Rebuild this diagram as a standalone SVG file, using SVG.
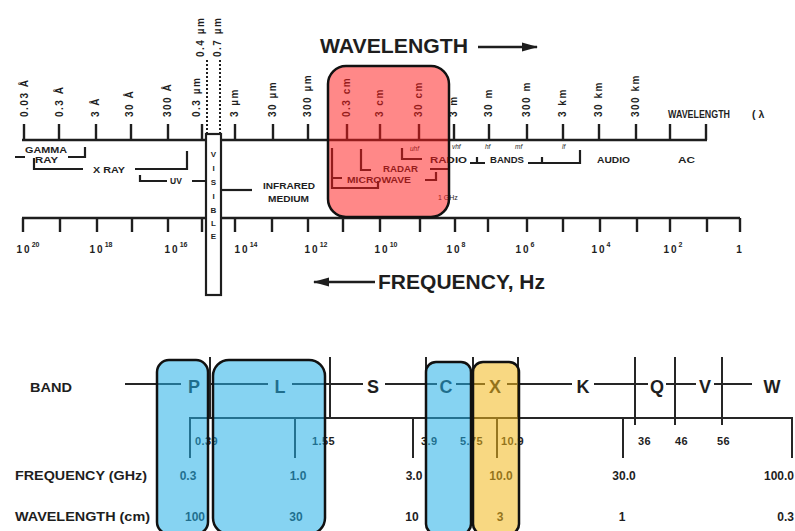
<svg xmlns="http://www.w3.org/2000/svg" width="795" height="531" viewBox="0 0 795 531">
<defs>
<style>
 .ax{stroke:#1e1e1e;stroke-width:2.6;fill:none}
 .tk{stroke:#1e1e1e;stroke-width:2.4}
 .br{stroke:#1e1e1e;stroke-width:2.2;fill:none}
 .dot{stroke:#1e1e1e;stroke-width:2;stroke-dasharray:2 2}
 text{font-family:"Liberation Sans",Arial,sans-serif;fill:#1e1e1e}
 .wl{font-size:10px;font-weight:bold;letter-spacing:1.5px}
 .rg{font-size:8.5px;font-weight:bold}
 .sm{font-size:6.5px;font-style:italic}
 .fq{font-size:10px;letter-spacing:2px;text-anchor:middle;font-weight:bold}
 .sup{font-size:7px;letter-spacing:0}
 .title{font-size:20px;font-weight:bold}
 .ln{stroke:#262626;stroke-width:2;fill:none}
 .bl{font-size:12px;font-weight:bold}
 .band{font-size:18px;font-weight:bold;text-anchor:middle}
 .val{font-size:12px;font-weight:bold;text-anchor:middle}
 .bd{font-size:11px;font-weight:bold;letter-spacing:0.4px}
 .red{fill:#ff1a1a;fill-opacity:.52;stroke:#111;stroke-width:2.5}
 .blue{fill:#22aee8;fill-opacity:.55;stroke:#111;stroke-width:2.5}
 .yel{fill:#f2b81c;fill-opacity:.55;stroke:#111;stroke-width:2.5}
</style>
<marker id="ah" markerUnits="userSpaceOnUse" markerWidth="16" markerHeight="10" viewBox="0 0 16 10" refX="15" refY="5" orient="auto">
 <path d="M0,0.5 L16,5 L0,9.5 z" fill="#1e1e1e"/>
</marker>
</defs>
<rect width="795" height="531" fill="#fff"/>

<!-- titles -->
<g id="titles">
 <text class="title" x="320" y="53" textLength="148" lengthAdjust="spacingAndGlyphs">WAVELENGTH</text>
 <line class="ax" x1="478" y1="47" x2="537" y2="47" marker-end="url(#ah)"/>
 <text class="title" x="378" y="289" textLength="167" lengthAdjust="spacingAndGlyphs">FREQUENCY, Hz</text>
 <line class="ax" x1="375" y1="282" x2="314" y2="282" marker-end="url(#ah)"/>
 <text class="rg" x="668" y="118" style="font-size:10.5px"><tspan textLength="62" lengthAdjust="spacingAndGlyphs">WAVELENGTH</tspan><tspan x="752">( λ</tspan></text>
</g>

<!-- wavelength scale -->
<g id="wavelength-axis">
 <path class="ax" d="M22,140 H707"/>
 <g class="tk">
  <line x1="24" y1="124" x2="24" y2="140"/><line x1="59" y1="124" x2="59" y2="140"/>
  <line x1="96" y1="124" x2="96" y2="140"/><line x1="131" y1="124" x2="131" y2="140"/>
  <line x1="168" y1="124" x2="168" y2="140"/><line x1="202" y1="124" x2="202" y2="140"/>
  <line x1="235" y1="124" x2="235" y2="140"/><line x1="273" y1="124" x2="273" y2="140"/>
  <line x1="308" y1="124" x2="308" y2="140"/><line x1="347" y1="124" x2="347" y2="140"/>
  <line x1="380" y1="124" x2="380" y2="140"/><line x1="419" y1="124" x2="419" y2="140"/>
  <line x1="454" y1="124" x2="454" y2="140"/><line x1="489" y1="124" x2="489" y2="140"/>
  <line x1="527" y1="124" x2="527" y2="140"/><line x1="563" y1="124" x2="563" y2="140"/>
  <line x1="599" y1="124" x2="599" y2="140"/><line x1="636" y1="124" x2="636" y2="140"/>
  <line x1="670" y1="124" x2="670" y2="140"/><line x1="706" y1="124" x2="706" y2="140"/>
 </g>
 <line class="dot" x1="207" y1="60" x2="207" y2="134"/>
 <line class="dot" x1="220" y1="60" x2="220" y2="134"/>
 <g class="wl">
  <text transform="translate(28,117) rotate(-90)">0.03 Å</text>
  <text transform="translate(63,117) rotate(-90)">0.3 Å</text>
  <text transform="translate(99,117) rotate(-90)">3 Å</text>
  <text transform="translate(133,117) rotate(-90)">30 Å</text>
  <text transform="translate(171,117) rotate(-90)">300 Å</text>
  <text transform="translate(200,117) rotate(-90)">0.3 µm</text>
  <text transform="translate(204,57) rotate(-90)">0.4 µm</text>
  <text transform="translate(221,57) rotate(-90)">0.7 µm</text>
  <text transform="translate(238,117) rotate(-90)">3 µm</text>
  <text transform="translate(276,117) rotate(-90)">30 µm</text>
  <text transform="translate(311,117) rotate(-90)">300 µm</text>
  <text transform="translate(350,117) rotate(-90)">0.3 cm</text>
  <text transform="translate(383,117) rotate(-90)">3 cm</text>
  <text transform="translate(422,117) rotate(-90)">30 cm</text>
  <text transform="translate(457,117) rotate(-90)">3 m</text>
  <text transform="translate(492,117) rotate(-90)">30 m</text>
  <text transform="translate(530,117) rotate(-90)">300 m</text>
  <text transform="translate(566,117) rotate(-90)">3 km</text>
  <text transform="translate(602,117) rotate(-90)">30 km</text>
  <text transform="translate(639,117) rotate(-90)">300 km</text>
 </g>
</g>

<!-- frequency scale -->
<g id="frequency-axis">
 <path class="ax" d="M22,218 H740"/>
 <g class="tk">
  <line x1="23" y1="218" x2="23" y2="232"/><line x1="60" y1="218" x2="60" y2="232"/>
  <line x1="97" y1="218" x2="97" y2="232"/><line x1="132" y1="218" x2="132" y2="232"/>
  <line x1="168" y1="218" x2="168" y2="232"/><line x1="202" y1="218" x2="202" y2="232"/>
  <line x1="235" y1="218" x2="235" y2="232"/><line x1="272" y1="218" x2="272" y2="232"/>
  <line x1="308" y1="218" x2="308" y2="232"/><line x1="343" y1="218" x2="343" y2="232"/>
  <line x1="380" y1="218" x2="380" y2="232"/><line x1="420" y1="218" x2="420" y2="232"/>
  <line x1="455" y1="218" x2="455" y2="232"/><line x1="488" y1="218" x2="488" y2="232"/>
  <line x1="527" y1="218" x2="527" y2="232"/><line x1="563" y1="218" x2="563" y2="232"/>
  <line x1="600" y1="218" x2="600" y2="232"/><line x1="637" y1="218" x2="637" y2="232"/>
  <line x1="670" y1="218" x2="670" y2="232"/><line x1="707" y1="218" x2="707" y2="232"/>
  <line x1="740" y1="218" x2="740" y2="232"/>
 </g>
 <g class="fq">
  <text x="28" y="253">10<tspan class="sup" dy="-6">20</tspan></text>
  <text x="101" y="253">10<tspan class="sup" dy="-6">18</tspan></text>
  <text x="176" y="253">10<tspan class="sup" dy="-6">16</tspan></text>
  <text x="246" y="253">10<tspan class="sup" dy="-6">14</tspan></text>
  <text x="316" y="253">10<tspan class="sup" dy="-6">12</tspan></text>
  <text x="386" y="253">10<tspan class="sup" dy="-6">10</tspan></text>
  <text x="456" y="253">10<tspan class="sup" dy="-6">8</tspan></text>
  <text x="525" y="253">10<tspan class="sup" dy="-6">6</tspan></text>
  <text x="601" y="253">10<tspan class="sup" dy="-6">4</tspan></text>
  <text x="673" y="253">10<tspan class="sup" dy="-6">2</tspan></text>
  <text x="740" y="253">1</text>
 </g>
</g>

<!-- spectrum regions -->
<g id="regions">
 <path class="br" d="M15,157 H25 M68,157 H85 V147 M34,158 V169 H83 M135,169 H187 V151"/>
 <text class="rg" x="25" y="153" textLength="42" lengthAdjust="spacingAndGlyphs">GAMMA</text>
 <text class="rg" x="35" y="163" textLength="23" lengthAdjust="spacingAndGlyphs">RAY</text>
 <text class="rg" x="93" y="173" textLength="32" lengthAdjust="spacingAndGlyphs">X RAY</text>
 <path class="br" d="M140,175 V181 H167 M192,181 H206"/>
 <text class="rg" x="170" y="184">UV</text>
 <path class="br" d="M222,190 H252"/>
 <text class="rg" x="263" y="189" textLength="52" lengthAdjust="spacingAndGlyphs">INFRARED</text>
 <text class="rg" x="268" y="202" textLength="41" lengthAdjust="spacingAndGlyphs">MEDIUM</text>
 <path class="br" d="M332,148 V188 H378 V181 M332,178 H342"/>
 <text class="rg" x="347" y="183" textLength="64" lengthAdjust="spacingAndGlyphs">MICROWAVE</text>
 <path class="br" d="M361,149 V170 H371"/>
 <text class="rg" x="383" y="172" textLength="35" lengthAdjust="spacingAndGlyphs">RADAR</text>
 <path class="br" d="M402,148 V159 H422 M425,180 H436 V172 M430,169 H449"/>
 <text class="sm" x="410" y="151">uhf</text>
 <text class="rg" x="430" y="163" textLength="37" lengthAdjust="spacingAndGlyphs">RADIO</text>
 <text class="sm" x="452" y="149">vhf</text>
 <path class="br" d="M470,163 H485 M477,157 V163"/>
 <text class="sm" x="485" y="149">hf</text>
 <text class="rg" x="490" y="163" textLength="34" lengthAdjust="spacingAndGlyphs">BANDS</text>
 <path class="br" d="M528,163 H580 V150 M542,157 V163"/>
 <text class="sm" x="515" y="149">mf</text>
 <text class="sm" x="562" y="149">lf</text>
 <text class="rg" x="597" y="163" textLength="33" lengthAdjust="spacingAndGlyphs">AUDIO</text>
 <text class="rg" x="678" y="163" textLength="17" lengthAdjust="spacingAndGlyphs">AC</text>
 <text x="438" y="200" style="font-size:7px">1 GHz</text>
</g>

<!-- visible band column -->
<g id="visible">
 <rect x="206" y="134" width="15" height="161" fill="#fff" stroke="#1e1e1e" stroke-width="2.2"/>
 <g class="rg" text-anchor="middle" style="font-size:8px">
  <text x="213.5" y="157">V</text><text x="213.5" y="171">I</text>
  <text x="213.5" y="185">S</text><text x="213.5" y="199">I</text>
  <text x="213.5" y="213">B</text><text x="213.5" y="226">L</text>
  <text x="213.5" y="239">E</text>
 </g>
</g>

<!-- microwave highlight -->
<rect id="microwave-box" class="red" x="328" y="66" width="121" height="151" rx="18"/>

<!-- radar band table -->
<g id="band-row">
 <text class="bl" x="30" y="392" textLength="42" lengthAdjust="spacingAndGlyphs">BAND</text>
 <path class="ln" d="M125,384 H181 M207,384 H268 M292,384 H363 M385,384 H437 M456,384 H485 M507,384 H572 M594,384 H648 M666,384 H696 M714,384 H752"/>
 <path class="ln" d="M210,357 V418 M330,357 V418 M426,357 V418 M473,357 V418 M518,357 V418 M635,357 V425 M675,357 V425 M722,357 V425"/>
 <text class="band" x="194" y="393">P</text>
 <text class="band" x="280" y="393">L</text>
 <text class="band" x="373" y="393">S</text>
 <text class="band" x="446" y="393">C</text>
 <text class="band" x="495" y="393">X</text>
 <text class="band" x="583" y="393">K</text>
 <text class="band" x="657" y="393">Q</text>
 <text class="band" x="705" y="393">V</text>
 <text class="band" x="772" y="393">W</text>
</g>
<g id="band-scale">
 <path class="ln" d="M190,458 V418 H792 V458 M295,418 V458 M413,418 V458 M497,418 V458 M623,418 V458"/>
 <g class="bd">
  <text x="195" y="445">0.39</text><text x="312" y="445">1.55</text>
  <text x="421" y="445">3.9</text><text x="460" y="445">5.75</text>
  <text x="501" y="445">10.9</text><text x="638" y="445">36</text>
  <text x="675" y="445">46</text><text x="717" y="445">56</text>
 </g>
 <text class="bl" x="15" y="480" textLength="132" lengthAdjust="spacingAndGlyphs">FREQUENCY (GHz)</text>
 <g class="val">
  <text x="188" y="480">0.3</text><text x="298" y="480">1.0</text>
  <text x="414" y="480">3.0</text><text x="501" y="480">10.0</text>
  <text x="624" y="480">30.0</text><text x="794" y="480" text-anchor="end">100.0</text>
 </g>
 <text class="bl" x="15" y="521" textLength="135" lengthAdjust="spacingAndGlyphs">WAVELENGTH (cm)</text>
 <g class="val">
  <text x="195" y="521">100</text><text x="296" y="521">30</text>
  <text x="412" y="521">10</text><text x="500" y="521">3</text>
  <text x="622" y="521">1</text><text x="794" y="521" text-anchor="end">0.3</text>
 </g>
</g>

<!-- band highlights -->
<g id="band-boxes">
 <rect id="p-band" class="blue" x="157" y="360" width="51" height="174" rx="12"/>
 <rect id="l-band" class="blue" x="213" y="360" width="112" height="174" rx="16"/>
 <rect id="c-band" class="blue" x="426" y="362" width="45" height="172" rx="10"/>
 <rect id="x-band" class="yel" x="473" y="362" width="46" height="172" rx="10"/>
</g>
</svg>
